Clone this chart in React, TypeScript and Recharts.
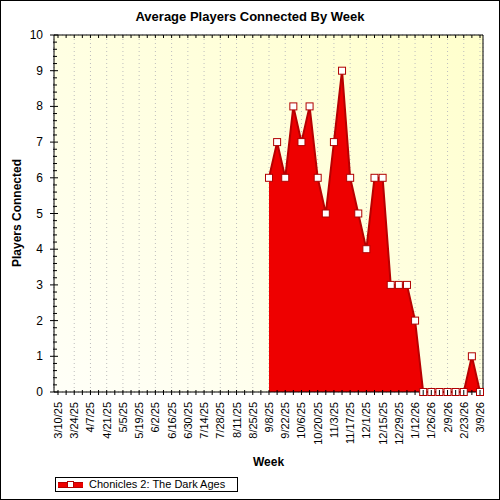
import { AreaChart, Area, XAxis, YAxis, CartesianGrid } from "recharts";

const weeks = [
  "3/10/25", "3/17/25", "3/24/25", "3/31/25", "4/7/25", "4/14/25", "4/21/25", "4/28/25",
  "5/5/25", "5/12/25", "5/19/25", "5/26/25", "6/2/25", "6/9/25", "6/16/25", "6/23/25",
  "6/30/25", "7/7/25", "7/14/25", "7/21/25", "7/28/25", "8/4/25", "8/11/25", "8/18/25",
  "8/25/25", "9/1/25", "9/8/25", "9/15/25", "9/22/25", "9/29/25", "10/6/25", "10/13/25",
  "10/20/25", "10/27/25", "11/3/25", "11/10/25", "11/17/25", "11/24/25", "12/1/25", "12/8/25",
  "12/15/25", "12/22/25", "12/29/25", "1/5/26", "1/12/26", "1/19/26", "1/26/26", "2/2/26",
  "2/9/26", "2/16/26", "2/23/26", "3/2/26", "3/9/26",
];

const players: (number | null)[] = [
  null, null, null, null, null, null, null, null, null, null, null, null, null,
  null, null, null, null, null, null, null, null, null, null, null, null, null,
  6, 7, 6, 8, 7, 8, 6, 5, 7, 9, 6, 5, 4, 6, 6, 3, 3, 3, 2,
  0, 0, 0, 0, 0, 0, 1, 0,
];

const yMajorTicks = [0, 1, 2, 3, 4, 5, 6, 7, 8, 9, 10];
const yMinorTicks = Array.from({ length: 51 }, (_, i) => i / 5);
// vertical grid every second week (skipping the first, which sits on the axis)
const gridWeekIdx = weeks.map((_, i) => i).filter((i) => i % 2 === 0 && i > 0);

const seriesName = "Chonicles 2: The Dark Ages";

const data = weeks.map((w, i) => ({ week: w, idx: i, value: players[i] }));

const font = '"Liberation Sans", Arial, sans-serif';
const xPad = { left: 4, right: 3 };

function BottomTick(props: any) {
  const { x, y, payload, index } = props;
  return (
    <g>
      <line x1={x} x2={x} y1={y - 2} y2={y + 3} stroke="#000" />
      {index % 2 === 0 && (
        <text
          x={x}
          y={y + 10}
          transform={`rotate(-90 ${x} ${y + 10})`}
          textAnchor="end"
          dominantBaseline="central"
          fontSize={11}
          fontFamily={font}
          fill="#000"
        >
          {payload.value}
        </text>
      )}
    </g>
  );
}

function LeftTick(props: any) {
  const { x, y, payload } = props;
  const major = Math.abs(payload.value - Math.round(payload.value)) < 1e-6;
  if (!major) return <line x1={x - 1} x2={x + 3} y1={y} y2={y} stroke="#000" />;
  return (
    <g>
      <line x1={x - 4} x2={x + 4} y1={y} y2={y} stroke="#000" />
      <text
        x={x - 11}
        y={y}
        textAnchor="end"
        dominantBaseline="central"
        fontSize={12}
        fontFamily={font}
        fill="#000"
      >
        {payload.value}
      </text>
    </g>
  );
}

function SquareDot(props: any) {
  const { cx, cy, value, index } = props;
  if (value == null || cx == null || cy == null) return <g key={index} />;
  return (
    <rect
      key={index}
      x={cx - 3.5}
      y={cy - 3.5}
      width={7}
      height={7}
      fill="#fff"
      stroke="#b00000"
      strokeWidth={1}
    />
  );
}

export default function App() {
  return (
    <div style={{ position: "absolute", left: 0, top: 0, width: 500, height: 500, background: "#fff", fontFamily: font }}>
      <AreaChart width={500} height={500} data={data} margin={{ top: 35, right: 17, bottom: 38, left: 0 }}>
        <defs>
          <linearGradient id="plotBg" x1="0" y1="1" x2="1" y2="0">
            <stop offset="0%" stopColor="#fffff8" />
            <stop offset="100%" stopColor="#ffffcc" />
          </linearGradient>
        </defs>
        <XAxis
          xAxisId="bottom"
          dataKey="week"
          interval={0}
          height={70}
          padding={xPad}
          tickLine={false}
          tickSize={0}
          tickMargin={0}
          tick={<BottomTick />}
          axisLine={{ stroke: "#000" }}
        />
        <XAxis
          xAxisId="top"
          orientation="top"
          mirror
          dataKey="week"
          interval={0}
          padding={xPad}
          tickSize={3}
          tickLine={{ stroke: "#000" }}
          tickFormatter={() => ""}
          axisLine={{ stroke: "#000" }}
        />
        <YAxis
          yAxisId="left"
          width={54}
          domain={[0, 10]}
          ticks={yMinorTicks}
          interval={0}
          tickLine={false}
          tickSize={0}
          tickMargin={0}
          tick={<LeftTick />}
          axisLine={{ stroke: "#000" }}
        />
        <YAxis
          yAxisId="right"
          orientation="right"
          mirror
          domain={[0, 10]}
          ticks={yMinorTicks}
          interval={0}
          tickSize={3}
          tickLine={{ stroke: "#000" }}
          tickFormatter={() => ""}
          axisLine={{ stroke: "#000" }}
        />
        <XAxis
          xAxisId="grid"
          type="number"
          dataKey="idx"
          hide
          height={0}
          domain={[0, weeks.length - 1]}
          ticks={gridWeekIdx}
          interval={0}
          padding={xPad}
        />
        <YAxis yAxisId="grid" hide width={0} domain={[0, 10]} ticks={yMajorTicks} interval={0} />
        <CartesianGrid
          xAxisId="grid"
          yAxisId="grid"
          fill="url(#plotBg)"
          stroke="#bdbdbd"
          strokeDasharray="1 3"
        />
        <Area
          xAxisId="bottom"
          yAxisId="left"
          type="linear"
          dataKey="value"
          name={seriesName}
          stroke="#b80000"
          strokeWidth={2}
          fill="#ee0000"
          fillOpacity={1}
          dot={<SquareDot />}
          activeDot={false}
          isAnimationActive={false}
        />
      </AreaChart>

      <div style={{ position: "absolute", left: 0, top: 9, width: 500, textAlign: "center", fontSize: 13, fontWeight: "bold", color: "#000" }}>
        Average Players Connected By Week
      </div>
      <div style={{ position: "absolute", left: 54, width: 429, top: 455, textAlign: "center", fontSize: 12, fontWeight: "bold", color: "#000" }}>
        Week
      </div>
      <div
        style={{
          position: "absolute",
          left: 17,
          top: 213,
          transform: "translate(-50%, -50%) rotate(-90deg)",
          whiteSpace: "nowrap",
          fontSize: 12,
          fontWeight: "bold",
          color: "#000",
        }}
      >
        Players Connected
      </div>
      <div
        style={{
          position: "absolute",
          left: 55,
          top: 477,
          width: 183,
          height: 15,
          boxSizing: "border-box",
          border: "1px solid #000",
          background: "#fff",
        }}
      >
        <div style={{ position: "absolute", left: 2, top: 4, width: 25, height: 6, background: "#ee0000", borderTop: "1px solid #b80000", borderBottom: "1px solid #b80000", boxSizing: "border-box" }} />
        <div style={{ position: "absolute", left: 11, top: 3, width: 7, height: 7, background: "#fff", border: "1px solid #b00000", boxSizing: "border-box" }} />
        <div style={{ position: "absolute", left: 33, top: 0, lineHeight: "13px", fontSize: 11, color: "#000", whiteSpace: "nowrap" }}>
          {seriesName}
        </div>
      </div>
      <div style={{ position: "absolute", left: 0, top: 0, width: 500, height: 500, border: "1px solid #000", boxSizing: "border-box", pointerEvents: "none" }} />
    </div>
  );
}
